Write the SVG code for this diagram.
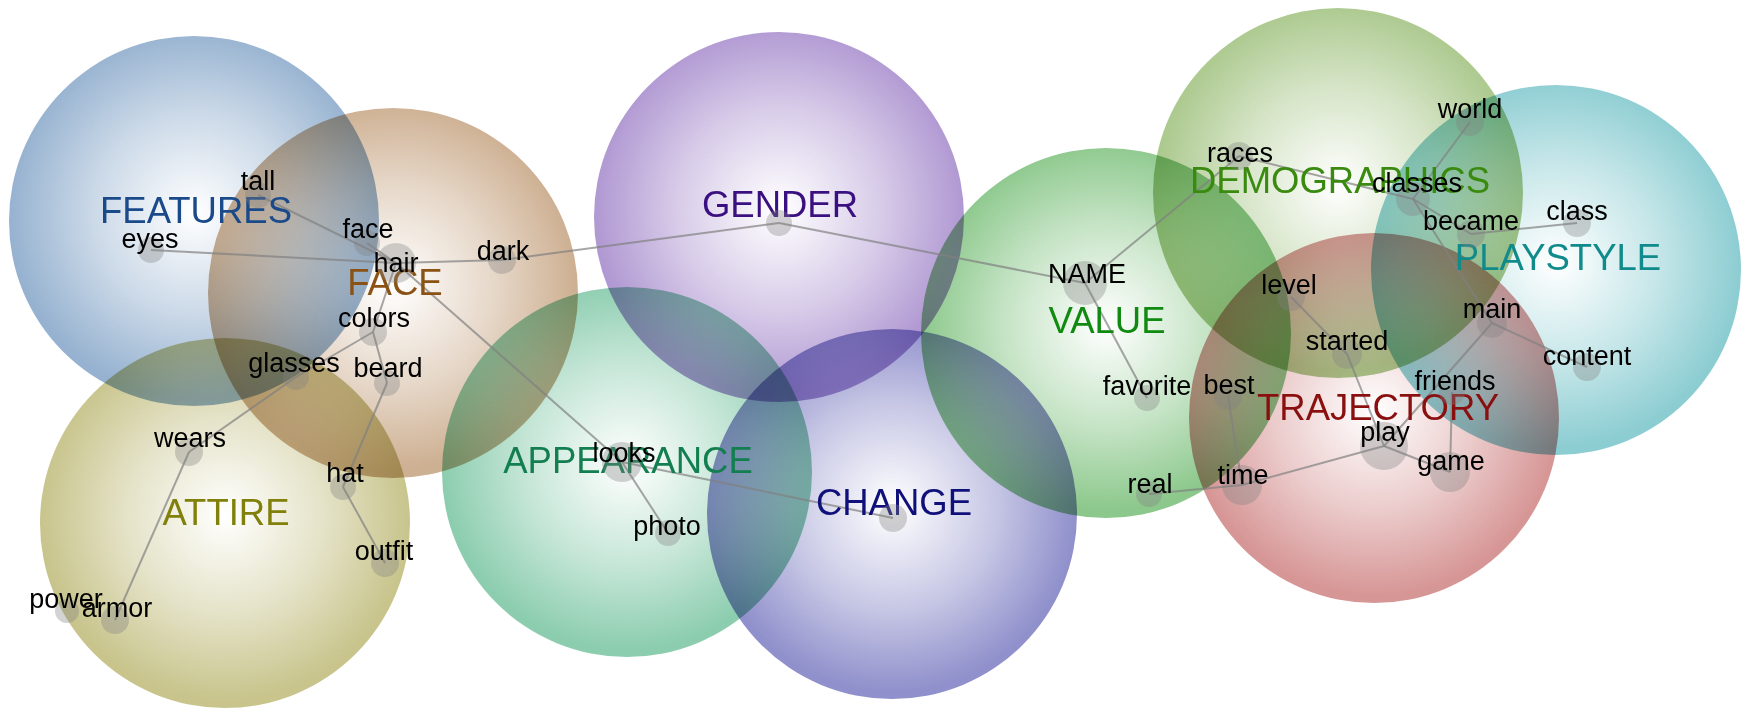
<svg xmlns="http://www.w3.org/2000/svg" width="1748" height="716" viewBox="0 0 1748 716">
<defs>
<radialGradient id="gFeat" cx="50%" cy="48%" r="50%"><stop offset="0" stop-color="#96b2d0" stop-opacity="0"/><stop offset="0.55" stop-color="#96b2d0" stop-opacity="0.5"/><stop offset="1" stop-color="#96b2d0" stop-opacity="1"/></radialGradient>
<radialGradient id="gFace" cx="50%" cy="48%" r="50%"><stop offset="0" stop-color="#cdaf91" stop-opacity="0"/><stop offset="0.55" stop-color="#cdaf91" stop-opacity="0.5"/><stop offset="1" stop-color="#cdaf91" stop-opacity="1"/></radialGradient>
<radialGradient id="gAtt" cx="50%" cy="48%" r="50%"><stop offset="0" stop-color="#c8c48c" stop-opacity="0"/><stop offset="0.55" stop-color="#c8c48c" stop-opacity="0.5"/><stop offset="1" stop-color="#c8c48c" stop-opacity="1"/></radialGradient>
<radialGradient id="gApp" cx="50%" cy="48%" r="50%"><stop offset="0" stop-color="#8ccdaf" stop-opacity="0"/><stop offset="0.55" stop-color="#8ccdaf" stop-opacity="0.5"/><stop offset="1" stop-color="#8ccdaf" stop-opacity="1"/></radialGradient>
<radialGradient id="gGen" cx="50%" cy="48%" r="50%"><stop offset="0" stop-color="#b098d2" stop-opacity="0"/><stop offset="0.55" stop-color="#b098d2" stop-opacity="0.5"/><stop offset="1" stop-color="#b098d2" stop-opacity="1"/></radialGradient>
<radialGradient id="gCha" cx="50%" cy="48%" r="50%"><stop offset="0" stop-color="#9090cc" stop-opacity="0"/><stop offset="0.55" stop-color="#9090cc" stop-opacity="0.5"/><stop offset="1" stop-color="#9090cc" stop-opacity="1"/></radialGradient>
<radialGradient id="gVal" cx="50%" cy="48%" r="50%"><stop offset="0" stop-color="#8cc88c" stop-opacity="0"/><stop offset="0.55" stop-color="#8cc88c" stop-opacity="0.5"/><stop offset="1" stop-color="#8cc88c" stop-opacity="1"/></radialGradient>
<radialGradient id="gDem" cx="50%" cy="48%" r="50%"><stop offset="0" stop-color="#aac88c" stop-opacity="0"/><stop offset="0.55" stop-color="#aac88c" stop-opacity="0.5"/><stop offset="1" stop-color="#aac88c" stop-opacity="1"/></radialGradient>
<radialGradient id="gTra" cx="50%" cy="48%" r="50%"><stop offset="0" stop-color="#d79696" stop-opacity="0"/><stop offset="0.55" stop-color="#d79696" stop-opacity="0.5"/><stop offset="1" stop-color="#d79696" stop-opacity="1"/></radialGradient>
<radialGradient id="gPla" cx="50%" cy="48%" r="50%"><stop offset="0" stop-color="#8ccdd2" stop-opacity="0"/><stop offset="0.55" stop-color="#8ccdd2" stop-opacity="0.5"/><stop offset="1" stop-color="#8ccdd2" stop-opacity="1"/></radialGradient>
</defs>
<style>
.topic{mix-blend-mode:multiply}
.edge{stroke:#808080;stroke-width:2;stroke-opacity:0.7;fill:none}
.dot{fill:#808080;fill-opacity:0.35}
.cat{font-family:"Liberation Sans",Arial,sans-serif;font-size:36.5px;text-anchor:middle}
.word{font-family:"Liberation Sans",Arial,sans-serif;font-size:27px;fill:#000;text-anchor:middle}
</style>
<rect width="1748" height="716" fill="#ffffff"/>
<g id="topics">
<g id="topic-features"><circle class="topic" cx="194" cy="221" r="185" fill="url(#gFeat)"/></g>
<g id="topic-face"><circle class="topic" cx="393" cy="293" r="185" fill="url(#gFace)"/></g>
<g id="topic-attire"><circle class="topic" cx="225" cy="523" r="185" fill="url(#gAtt)"/></g>
<g id="topic-appearance"><circle class="topic" cx="627" cy="472" r="185" fill="url(#gApp)"/></g>
<g id="topic-gender"><circle class="topic" cx="779" cy="217" r="185" fill="url(#gGen)"/></g>
<g id="topic-change"><circle class="topic" cx="892" cy="514" r="185" fill="url(#gCha)"/></g>
<g id="topic-value"><circle class="topic" cx="1106" cy="333" r="185" fill="url(#gVal)"/></g>
<g id="topic-demographics"><circle class="topic" cx="1338" cy="193" r="185" fill="url(#gDem)"/></g>
<g id="topic-trajectory"><circle class="topic" cx="1374" cy="418" r="185" fill="url(#gTra)"/></g>
<g id="topic-playstyle"><circle class="topic" cx="1556" cy="270" r="185" fill="url(#gPla)"/></g>
</g>
<g id="connectors">
<line class="edge" x1="151" y1="250" x2="396" y2="263"/>
<line class="edge" x1="258" y1="195" x2="396" y2="263"/>
<line class="edge" x1="367" y1="243" x2="396" y2="263"/>
<line class="edge" x1="396" y1="263" x2="502" y2="260"/>
<line class="edge" x1="502" y1="260" x2="779" y2="223"/>
<line class="edge" x1="396" y1="263" x2="373" y2="332"/>
<line class="edge" x1="396" y1="263" x2="622" y2="462"/>
<line class="edge" x1="373" y1="332" x2="296" y2="377"/>
<line class="edge" x1="373" y1="332" x2="387" y2="383"/>
<line class="edge" x1="296" y1="377" x2="189" y2="452"/>
<line class="edge" x1="189" y1="452" x2="115" y2="620"/>
<line class="edge" x1="387" y1="383" x2="343" y2="487"/>
<line class="edge" x1="343" y1="487" x2="385" y2="563"/>
<line class="edge" x1="622" y1="462" x2="668" y2="533"/>
<line class="edge" x1="622" y1="462" x2="893" y2="518"/>
<line class="edge" x1="779" y1="223" x2="1085" y2="283"/>
<line class="edge" x1="1085" y1="283" x2="1239" y2="156"/>
<line class="edge" x1="1085" y1="283" x2="1147" y2="398"/>
<line class="edge" x1="1239" y1="156" x2="1413" y2="199"/>
<line class="edge" x1="1413" y1="199" x2="1470" y2="122"/>
<line class="edge" x1="1413" y1="199" x2="1471" y2="234"/>
<line class="edge" x1="1413" y1="199" x2="1492" y2="323"/>
<line class="edge" x1="1471" y1="234" x2="1577" y2="223"/>
<line class="edge" x1="1492" y1="323" x2="1587" y2="367"/>
<line class="edge" x1="1492" y1="323" x2="1384" y2="446"/>
<line class="edge" x1="1452" y1="392" x2="1450" y2="472"/>
<line class="edge" x1="1384" y1="446" x2="1450" y2="472"/>
<line class="edge" x1="1347" y1="354" x2="1384" y2="446"/>
<line class="edge" x1="1291" y1="297" x2="1347" y2="354"/>
<line class="edge" x1="1242" y1="485" x2="1384" y2="446"/>
<line class="edge" x1="1228" y1="396" x2="1242" y2="485"/>
<line class="edge" x1="1149" y1="494" x2="1242" y2="485"/>
</g>
<g id="topic-labels">
<g id="label-features"><text class="cat" x="196" y="223" fill="#1a4a8a">FEATURES</text></g>
<g id="label-face"><text class="cat" x="395" y="295" fill="#8a5214">FACE</text></g>
<g id="label-attire"><text class="cat" x="226" y="525" fill="#80800a">ATTIRE</text></g>
<g id="label-appearance"><text class="cat" x="628" y="473" fill="#137f50">APPEARANCE</text></g>
<g id="label-gender"><text class="cat" x="780" y="217" fill="#3a1080">GENDER</text></g>
<g id="label-change"><text class="cat" x="894" y="515" fill="#10107a">CHANGE</text></g>
<g id="label-value"><text class="cat" x="1107" y="333" fill="#108a10">VALUE</text></g>
<g id="label-demographics"><text class="cat" x="1340" y="193" fill="#3a8a10">DEMOGRAPHICS</text></g>
<g id="label-trajectory"><text class="cat" x="1378" y="420" fill="#8a1010">TRAJECTORY</text></g>
<g id="label-playstyle"><text class="cat" x="1558" y="270" fill="#108a8a">PLAYSTYLE</text></g>
</g>
<g id="nodes">
<g id="node-gender"><circle class="dot" cx="779" cy="223" r="13"/></g>
<g id="node-change"><circle class="dot" cx="893" cy="518" r="14"/></g>
<g id="node-tall"><circle class="dot" cx="258" cy="195" r="13"/><text class="word" x="258" y="190">tall</text></g>
<g id="node-eyes"><circle class="dot" cx="151" cy="250" r="13"/><text class="word" x="150" y="248">eyes</text></g>
<g id="node-face"><circle class="dot" cx="367" cy="243" r="13"/><text class="word" x="368" y="238">face</text></g>
<g id="node-hair"><circle class="dot" cx="396" cy="263" r="20"/><text class="word" x="396" y="272">hair</text></g>
<g id="node-dark"><circle class="dot" cx="502" cy="260" r="14"/><text class="word" x="503" y="260">dark</text></g>
<g id="node-colors"><circle class="dot" cx="373" cy="332" r="14"/><text class="word" x="374" y="327">colors</text></g>
<g id="node-glasses"><circle class="dot" cx="296" cy="377" r="13"/><text class="word" x="294" y="372">glasses</text></g>
<g id="node-beard"><circle class="dot" cx="387" cy="383" r="13"/><text class="word" x="388" y="377">beard</text></g>
<g id="node-wears"><circle class="dot" cx="189" cy="452" r="14"/><text class="word" x="190" y="447">wears</text></g>
<g id="node-hat"><circle class="dot" cx="343" cy="487" r="13"/><text class="word" x="345" y="482">hat</text></g>
<g id="node-outfit"><circle class="dot" cx="385" cy="563" r="14"/><text class="word" x="384" y="560">outfit</text></g>
<g id="node-power"><circle class="dot" cx="67" cy="611" r="12"/><text class="word" x="66" y="608">power</text></g>
<g id="node-armor"><circle class="dot" cx="115" cy="620" r="14"/><text class="word" x="117" y="617">armor</text></g>
<g id="node-looks"><circle class="dot" cx="622" cy="462" r="20"/><text class="word" x="624" y="462">looks</text></g>
<g id="node-photo"><circle class="dot" cx="668" cy="533" r="13"/><text class="word" x="667" y="535">photo</text></g>
<g id="node-name"><circle class="dot" cx="1085" cy="283" r="22"/><text class="word" x="1087" y="283">NAME</text></g>
<g id="node-favorite"><circle class="dot" cx="1147" cy="398" r="13"/><text class="word" x="1147" y="395">favorite</text></g>
<g id="node-real"><circle class="dot" cx="1149" cy="494" r="13"/><text class="word" x="1150" y="493">real</text></g>
<g id="node-best"><circle class="dot" cx="1228" cy="396" r="14"/><text class="word" x="1229" y="394">best</text></g>
<g id="node-time"><circle class="dot" cx="1242" cy="485" r="20"/><text class="word" x="1243" y="484">time</text></g>
<g id="node-races"><circle class="dot" cx="1239" cy="156" r="14"/><text class="word" x="1240" y="162">races</text></g>
<g id="node-level"><circle class="dot" cx="1291" cy="297" r="14"/><text class="word" x="1289" y="294">level</text></g>
<g id="node-started"><circle class="dot" cx="1347" cy="354" r="15"/><text class="word" x="1347" y="350">started</text></g>
<g id="node-play"><circle class="dot" cx="1384" cy="446" r="24"/><text class="word" x="1385" y="441">play</text></g>
<g id="node-game"><circle class="dot" cx="1450" cy="472" r="20"/><text class="word" x="1451" y="470">game</text></g>
<g id="node-friends"><circle class="dot" cx="1452" cy="392" r="13"/><text class="word" x="1455" y="390">friends</text></g>
<g id="node-main"><circle class="dot" cx="1492" cy="323" r="15"/><text class="word" x="1492" y="318">main</text></g>
<g id="node-content"><circle class="dot" cx="1587" cy="367" r="14"/><text class="word" x="1587" y="365">content</text></g>
<g id="node-class"><circle class="dot" cx="1577" cy="223" r="14"/><text class="word" x="1577" y="220">class</text></g>
<g id="node-became"><circle class="dot" cx="1471" cy="234" r="14"/><text class="word" x="1471" y="230">became</text></g>
<g id="node-classes"><circle class="dot" cx="1413" cy="199" r="17"/><text class="word" x="1417" y="192">classes</text></g>
<g id="node-world"><circle class="dot" cx="1470" cy="122" r="14"/><text class="word" x="1470" y="118">world</text></g>
</g>
</svg>
